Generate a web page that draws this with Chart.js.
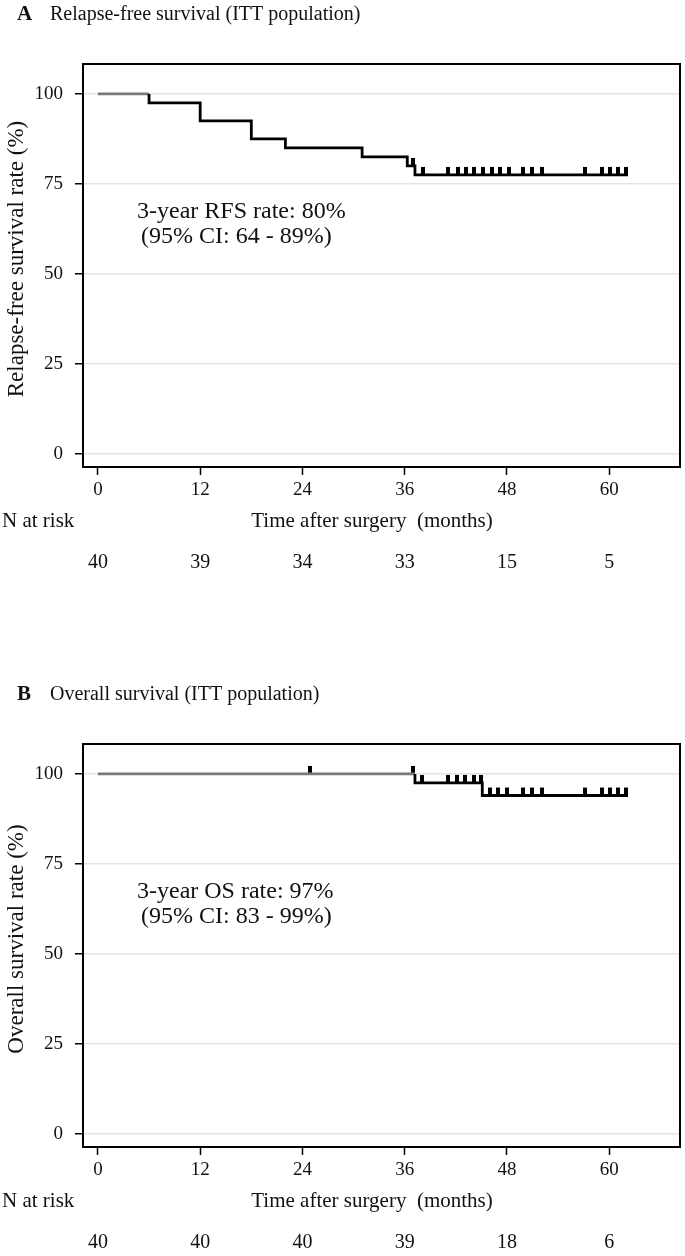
<!DOCTYPE html>
<html>
<head>
<meta charset="utf-8">
<script src="https://cdn.jsdelivr.net/npm/chart.js@4/dist/chart.umd.min.js"></script>
<style>
  html, body { margin: 0; padding: 0; background: #fff; overflow: hidden; }
  .panel { position: absolute; left: 0; width: 685px; }
  #panelA { top: 0; height: 680px; }
  #panelB { top: 680px; height: 576px; }
</style>
</head>
<body>
<div class="panel" id="panelA"><canvas id="rfs-chart"></canvas></div>
<div class="panel" id="panelB"><canvas id="os-chart"></canvas></div>
<script>
// x ticks (months) and y ticks (%)
const timeTicks = [0, 12, 24, 36, 48, 60];
const rateTicks = [0, 25, 50, 75, 100];

// A: relapse-free survival, event times and level after each event
const rfsEventTimes = [6, 12, 18, 22, 31, 36.3, 37.2];
const rfsEventValues = [97.5, 92.5, 87.5, 85, 82.5, 80, 77.5];
const rfsLastTime = 62.2;
const rfsCensorTimes = [37.0, 38.1, 41.1, 42.2, 43.2, 44.1, 45.2, 46.2, 47.2, 48.2,
                        49.9, 50.9, 52.1, 57.1, 59.1, 60.1, 61.0, 62.0];
const rfsAtRisk = [40, 39, 34, 33, 15, 5];

// B: overall survival
const osEventTimes = [37.2, 45.1];
const osEventValues = [97.5, 94];
const osLastTime = 62.2;
const osCensorTimes = [24.9, 37.0, 38.0, 41.1, 42.1, 43.1, 44.1, 45.0, 46.0, 47.0, 48.0,
                       49.9, 50.9, 52.1, 57.1, 59.1, 60.1, 61.0, 62.0];
const osAtRisk = [40, 40, 40, 39, 18, 6];

const SERIF = '"Liberation Serif", "Times New Roman", serif';

// build the step path of a KM curve from its event arrays
function stepPoints(times, values, lastTime) {
    const pts = [{ x: 0, y: 100 }];
    let level = 100;
    times.forEach((t, i) => {
        pts.push({ x: t, y: level });
        level = values[i];
        pts.push({ x: t, y: level });
    });
    pts.push({ x: lastTime, y: level });
    return pts;
}

function levelAt(times, values, t) {
    let level = 100;
    times.forEach((et, i) => { if (et <= t) level = values[i]; });
    return level;
}

// censor tick: a short bar sitting on top of the line
function censorMark() {
    const c = document.createElement('canvas');
    c.width = 4;
    c.height = 18;
    const g = c.getContext('2d');
    g.fillStyle = '#000';
    g.fillRect(0, 1, 4, 8);
    return c;
}
const censorStyle = censorMark();

function makeChart(id, height, opts) {
    const canvas = document.getElementById(id);
    canvas.style.width = '685px';
    canvas.style.height = height + 'px';
    canvas.width = 685;
    canvas.height = height;

    const decor = {
        id: 'decor',
        afterDatasetsDraw(chart) {
            const { ctx, chartArea: a, scales } = chart;
            ctx.save();
            ctx.strokeStyle = '#000';
            ctx.lineWidth = 2;
            ctx.strokeRect(a.left, a.top, a.right - a.left, a.bottom - a.top);

            ctx.fillStyle = '#111';
            ctx.textBaseline = 'middle';
            // panel title
            ctx.textAlign = 'left';
            ctx.font = 'bold 21px ' + SERIF;
            ctx.fillText(opts.letter, 17, 15);
            ctx.font = '20px ' + SERIF;
            ctx.fillText(opts.title, 50, 15);

            // rate annotation
            ctx.font = '24px ' + SERIF;
            ctx.fillText(opts.note[0], 137, 212);
            ctx.fillText(opts.note[1], 141, 237);

            // y title
            ctx.save();
            ctx.translate(17, 259);
            ctx.rotate(-Math.PI / 2);
            ctx.textAlign = 'center';
            ctx.font = '23px ' + SERIF;
            ctx.fillText(opts.yTitle, 0, 0);
            ctx.restore();

            // x title and risk table
            ctx.font = '21px ' + SERIF;
            ctx.textAlign = 'left';
            ctx.fillText('N at risk', 2, 521);
            ctx.textAlign = 'center';
            ctx.fillText('Time after surgery  (months)', 372, 521);
            ctx.font = '20px ' + SERIF;
            opts.atRisk.forEach((n, i) => {
                ctx.fillText(String(n), scales.x.getPixelForValue(timeTicks[i]), 563);
            });
            ctx.restore();
        }
    };

    const curve = stepPoints(opts.times, opts.values, opts.lastTime);
    const censors = opts.censors.map(t => ({ x: t, y: levelAt(opts.times, opts.values, t) }));

    return new Chart(canvas, {
        type: 'scatter',
        data: {
            datasets: [{
                type: 'line',
                data: curve,
                borderColor: '#000',
                borderWidth: 2.8,
                pointRadius: 0,
                tension: 0,
                segment: {
                    borderColor: c => (c.p0.parsed.y === 100 && c.p1.parsed.y === 100) ? '#7a7a7a' : '#000'
                }
            }, {
                data: censors,
                pointStyle: censorStyle,
                pointRadius: 4,
                borderWidth: 0
            }]
        },
        options: {
            responsive: false,
            animation: false,
            events: [],
            layout: { padding: { left: 0, top: 64, right: 5, bottom: 0 } },
            plugins: { legend: { display: false }, tooltip: { enabled: false } },
            scales: {
                x: {
                    type: 'linear',
                    min: -1.75,
                    max: 68.3,
                    afterFit: s => { s.height = height - 467; },
                    afterBuildTicks: s => { s.ticks = timeTicks.map(v => ({ value: v })); },
                    border: { display: false },
                    grid: { drawOnChartArea: false, tickLength: 8, tickColor: '#000', tickWidth: 1.5 },
                    ticks: { color: '#111', font: { family: SERIF, size: 19 }, padding: 4, maxRotation: 0 }
                },
                y: {
                    type: 'linear',
                    min: -3.6,
                    max: 108.3,
                    afterFit: s => { s.width = 83; },
                    afterBuildTicks: s => { s.ticks = rateTicks.map(v => ({ value: v })); },
                    border: { display: false },
                    grid: { color: '#e4e4e4', lineWidth: 1.5, tickLength: 8, tickColor: '#000', tickWidth: 1.5 },
                    ticks: { color: '#111', font: { family: SERIF, size: 19 }, padding: 12 }
                }
            }
        },
        plugins: [decor]
    });
}

makeChart('rfs-chart', 680, {
    letter: 'A',
    title: 'Relapse-free survival (ITT population)',
    yTitle: 'Relapse-free survival rate (%)',
    note: ['3-year RFS rate: 80%', '(95% CI: 64 - 89%)'],
    times: rfsEventTimes,
    values: rfsEventValues,
    lastTime: rfsLastTime,
    censors: rfsCensorTimes,
    atRisk: rfsAtRisk
});

makeChart('os-chart', 576, {
    letter: 'B',
    title: 'Overall survival (ITT population)',
    yTitle: 'Overall survival rate (%)',
    note: ['3-year OS rate: 97%', '(95% CI: 83 - 99%)'],
    times: osEventTimes,
    values: osEventValues,
    lastTime: osLastTime,
    censors: osCensorTimes,
    atRisk: osAtRisk
});
</script>
</body>
</html>
